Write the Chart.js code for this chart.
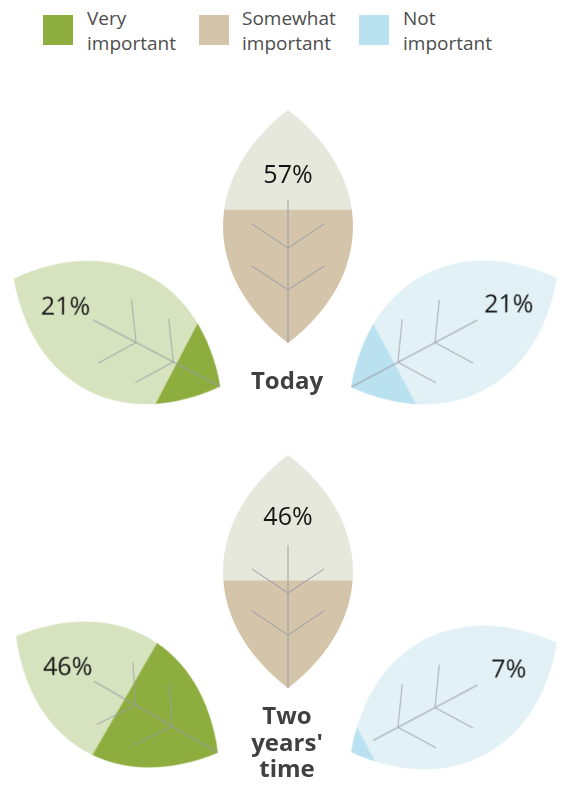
<!DOCTYPE html>
<html>
<head>
<meta charset="utf-8">
<script src="https://cdn.jsdelivr.net/npm/chart.js@4.4.0/dist/chart.umd.min.js"></script>
<style>
  body { margin: 0; background: #fff; font-family: "Open Sans", sans-serif; }
  #page { position: relative; width: 564px; height: 795px; overflow: hidden; }
  .leaf { position: absolute; }
  .key { position: absolute; top: 15px; width: 30px; height: 30px; }
  .keytxt { position: absolute; top: 6px; font-size: 19px; line-height: 25px; color: #4d4d4d; }
  .title { position: absolute; width: 140px; text-align: center; font-weight: bold;
           font-size: 24px; color: #404040; }
</style>
</head>
<body>
<div id="page"></div>
<script>
// data
const categories = ['Very important', 'Somewhat important', 'Not important']
const periods = ['Today', "Two years' time"]
const today = [21, 57, 21]
const twoYears = [46, 46, 7]

// colours per category: [fill, light part of leaf]
const fillColors = ['#8dad3e', '#d4c5aa', '#b9e1ef']
const lightColors = ['#d7e3be', '#e7e8dc', '#e2f1f5']
const veinColor = '#9b9ca6'

// leaf placement: centre, rotation, how far up the label sits, where the midrib starts
const leafW = 130, leafH = 233
const layout = [
  [ {x: 116.5, y: 332, rot: -62.4, lab: 58, stem: 0},
    {x: 288, y: 226.5, rot: 0, lab: 53, stem: 0},
    {x: 453.5, y: 332, rot: 62, lab: 62, stem: 0} ],
  [ {x: 117, y: 694.5, rot: -60, lab: 57, stem: 0},
    {x: 288, y: 571, rot: 0, lab: 56, stem: 0},
    {x: 454, y: 697, rot: 62, lab: 62, stem: 25} ]
]
const titlePos = [{x: 287, top: 364}, {x: 287, top: 702}]

const page = document.getElementById('page')

function leafPath(ctx, a){
  const cx = (a.left + a.right) / 2
  const h = (a.right - a.left) / 2 / 0.75
  const mid = (a.top + a.bottom) / 2
  const m = 50
  ctx.beginPath()
  ctx.moveTo(cx, a.bottom)
  ctx.bezierCurveTo(cx - h, mid + m, cx - h, mid - m, cx, a.top)
  ctx.bezierCurveTo(cx + h, mid - m, cx + h, mid + m, cx, a.bottom)
  ctx.closePath()
}

const leafPlugin = {
  id: 'leaf',
  beforeDatasetsDraw(chart){
    const ctx = chart.ctx
    ctx.save()
    leafPath(ctx, chart.chartArea)
    ctx.clip()
  },
  afterDatasetsDraw(chart){
    const ctx = chart.ctx
    const a = chart.chartArea
    const o = chart.options.plugins.leaf
    ctx.restore()
    const cx = (a.left + a.right) / 2
    const base = a.bottom
    // veins
    ctx.save()
    ctx.strokeStyle = veinColor
    ctx.lineWidth = 1
    ctx.beginPath()
    ctx.moveTo(cx, base - o.stem)
    ctx.lineTo(cx, base - 143)
    for (const j of [53, 95]) {
      ctx.moveTo(cx - 36, base - j - 24)
      ctx.lineTo(cx, base - j)
      ctx.lineTo(cx + 36, base - j - 24)
    }
    ctx.stroke()
    ctx.restore()
    // value label, kept upright
    const v = chart.data.datasets[0].data[0]
    ctx.save()
    ctx.translate(cx, (a.top + a.bottom) / 2 - o.lab)
    ctx.rotate(-o.rot * Math.PI / 180)
    ctx.font = '25px "Open Sans"'
    ctx.fillStyle = '#151515'
    ctx.textAlign = 'center'
    ctx.textBaseline = 'alphabetic'
    ctx.fillText(v + '%', 0, 9)
    ctx.restore()
  }
}

function drawLeaf(pos, ci, value){
  const c = document.createElement('canvas')
  c.className = 'leaf'
  c.width = leafW
  c.height = leafH
  c.style.left = (pos.x - leafW / 2) + 'px'
  c.style.top = (pos.y - leafH / 2) + 'px'
  c.style.transform = 'rotate(' + pos.rot + 'deg)'
  page.appendChild(c)
  new Chart(c, {
    type: 'bar',
    data: {
      labels: [categories[ci]],
      datasets: [
        {label: categories[ci], data: [value], backgroundColor: fillColors[ci], borderWidth: 0},
        {label: 'rest', data: [100 - value], backgroundColor: lightColors[ci], borderWidth: 0}
      ]
    },
    options: {
      responsive: false,
      animation: false,
      layout: {padding: 0},
      datasets: {bar: {barPercentage: 1, categoryPercentage: 1}},
      scales: {
        x: {display: false, stacked: true},
        y: {display: false, stacked: true, min: 0, max: 100}
      },
      plugins: {
        legend: {display: false},
        tooltip: {enabled: false},
        leaf: {rot: pos.rot, lab: pos.lab, stem: pos.stem}
      }
    },
    plugins: [leafPlugin]
  })
}

// legend
const keyX = [43, 199, 359], keyTxtX = [87, 242, 403]
const keyLines = [['Very', 'important'], ['Somewhat', 'important'], ['Not', 'important']]
categories.forEach((cat, i) => {
  const sq = document.createElement('div')
  sq.className = 'key'
  sq.style.left = keyX[i] + 'px'
  sq.style.background = fillColors[i]
  page.appendChild(sq)
  const t = document.createElement('div')
  t.className = 'keytxt'
  t.style.left = keyTxtX[i] + 'px'
  t.innerHTML = keyLines[i].join('<br>')
  page.appendChild(t)
})

// leaves
const series = [today, twoYears]
series.forEach((vals, g) => {
  vals.forEach((v, ci) => drawLeaf(layout[g][ci], ci, v))
})

// period titles
const titleLines = [['Today'], ['Two', "years'", 'time']]
periods.forEach((p, g) => {
  const t = document.createElement('div')
  t.className = 'title'
  t.style.left = (titlePos[g].x - 70) + 'px'
  t.style.top = titlePos[g].top + 'px'
  t.style.lineHeight = g == 0 ? '32px' : '26.5px'
  t.innerHTML = titleLines[g].join('<br>')
  page.appendChild(t)
})
</script>
</body>
</html>
